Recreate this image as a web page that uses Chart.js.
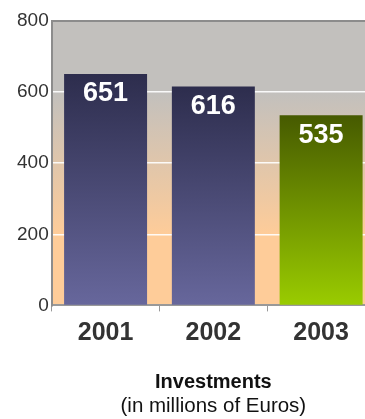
<!DOCTYPE html>
<html>
<head>
<meta charset="utf-8">
<script src="https://cdn.jsdelivr.net/npm/chart.js@4"></script>
<style>
  html, body { margin: 0; padding: 0; background: #fff; overflow: hidden; }
  #wrap { width: 375px; height: 419px; }
</style>
</head>
<body>
<div id="wrap"><canvas id="investChart" width="375" height="419"></canvas></div>
<script>
const years = ['2001', '2002', '2003']
const investments = [651, 616, 535]
const yTicks = [0, 200, 400, 600, 800]
const titleLines = ['Investments', '(in millions of Euros)']

// top / bottom colours of each bar's gradient
const barTops = ['#2d2d4d', '#2d2d4d', '#465a00']
const barBottoms = ['#67679c', '#67679c', '#9acc00']

const FONT = "'Liberation Sans', Arial, sans-serif"

// grey-to-peach fill behind the bars
const plotBackground = {
    id: 'plotBackground',
    beforeDraw(chart) {
        const { ctx, chartArea: a, scales: { y } } = chart
        const g = ctx.createLinearGradient(0, y.getPixelForValue(600), 0, y.getPixelForValue(200))
        g.addColorStop(0, '#c2c0bd')
        g.addColorStop(1, '#fecc99')
        ctx.save()
        ctx.fillStyle = g
        ctx.fillRect(a.left, a.top, a.right - a.left, a.bottom - a.top)
        ctx.restore()
    }
}

// white value written inside the top of each bar
const valueLabels = {
    id: 'valueLabels',
    afterDatasetsDraw(chart) {
        const { ctx } = chart
        const meta = chart.getDatasetMeta(0)
        ctx.save()
        ctx.font = `bold 27px ${FONT}`
        ctx.fillStyle = '#fff'
        ctx.textAlign = 'center'
        ctx.textBaseline = 'middle'
        meta.data.forEach((bar, i) => {
            ctx.fillText(String(investments[i]), bar.x, bar.y + 20)
        })
        ctx.restore()
    }
}

const barFill = (c) => {
    const { chart, dataIndex } = c
    if (!chart.chartArea) return barBottoms[dataIndex]
    const y = chart.scales.y
    const g = chart.ctx.createLinearGradient(
        0, y.getPixelForValue(investments[dataIndex]),
        0, y.getPixelForValue(0)
    )
    g.addColorStop(0, barTops[dataIndex])
    g.addColorStop(1, barBottoms[dataIndex])
    return g
}

new Chart(document.getElementById('investChart'), {
    type: 'bar',
    data: {
        labels: years,
        datasets: [
            {
                data: investments,
                backgroundColor: barFill,
                borderWidth: 0,
                barPercentage: 0.77,
                categoryPercentage: 1
            }
        ]
    },
    options: {
        responsive: false,
        animation: false,
        layout: {
            padding: { left: 14, top: 21, right: 0, bottom: 0 }
        },
        plugins: {
            legend: { display: false },
            tooltip: { enabled: false },
            subtitle: {
                display: true,
                text: titleLines[1],
                position: 'bottom',
                fullSize: false,
                color: '#111',
                font: { family: FONT, size: 20.5, weight: 'normal' },
                padding: { top: 0, bottom: 0 }
            }
        },
        scales: {
            x: {
                grid: {
                    drawOnChartArea: false,
                    tickLength: 6,
                    color: '#999'
                },
                border: { color: '#999', width: 2 },
                ticks: {
                    color: '#333',
                    padding: 7,
                    font: { family: FONT, size: 25, weight: 'bold' }
                },
                title: {
                    display: true,
                    text: titleLines[0],
                    color: '#111',
                    font: { family: FONT, size: 20, weight: 'bold' },
                    padding: { top: 15, bottom: 0 }
                }
            },
            y: {
                min: 0,
                max: 800,
                afterBuildTicks: (scale) => {
                    scale.ticks = yTicks.map((v) => ({ value: v }))
                },
                grid: {
                    drawTicks: false,
                    color: (c) => {
                        const v = c.tick.value
                        if (v === 800) return '#8c8c8c'
                        if (v === 0) return 'rgba(0,0,0,0)'
                        return 'rgba(255,255,255,0.9)'
                    },
                    lineWidth: (c) => (c.tick.value === 800 ? 2 : 1.5)
                },
                border: { color: '#8c8c8c', width: 2 },
                ticks: {
                    color: '#333',
                    padding: 3,
                    font: { family: FONT, size: 19 }
                }
            }
        }
    },
    plugins: [plotBackground, valueLabels]
})
</script>
</body>
</html>
